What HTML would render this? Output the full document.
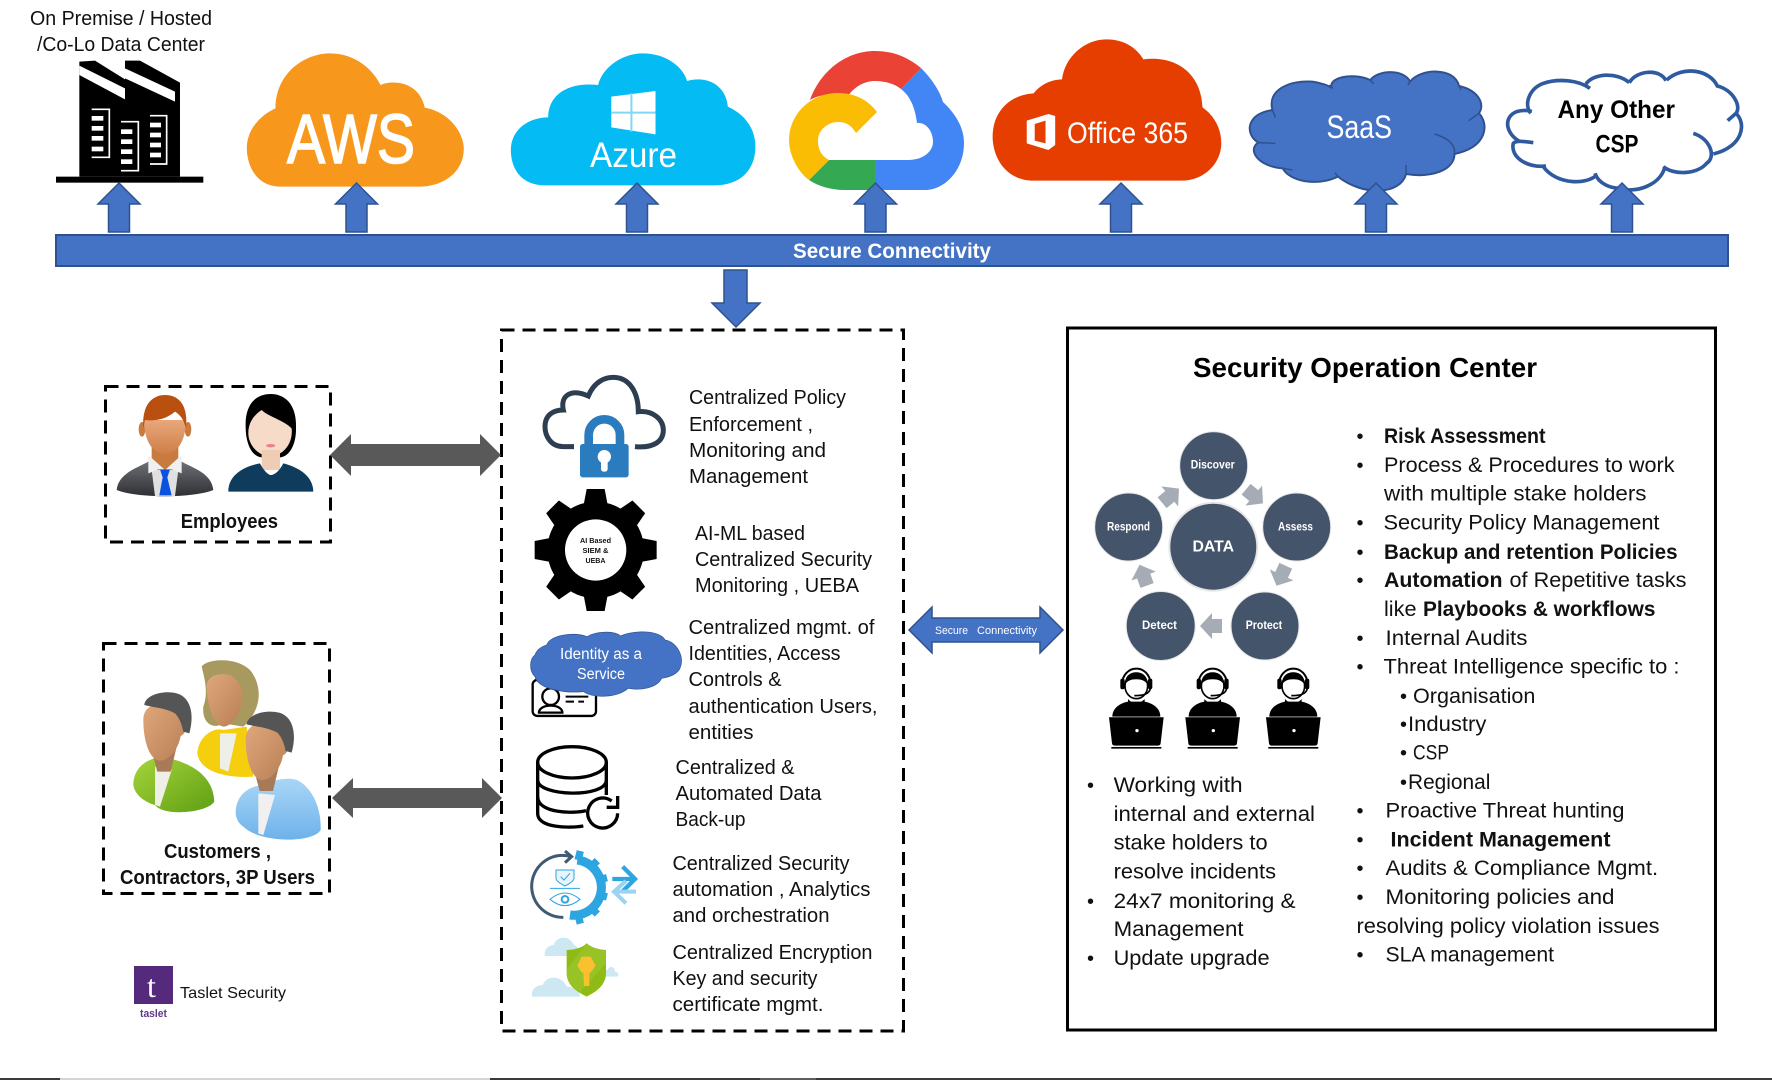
<!DOCTYPE html>
<html><head><meta charset="utf-8"><title>Secure Connectivity Diagram</title>
<style>
html,body{margin:0;padding:0;background:#fff}
svg{display:block}
text{font-family:"Liberation Sans",sans-serif;fill:#111}
.t{font-size:20px}
.s{font-size:21.5px}
.b{font-weight:bold}
.w{fill:#fff}
.ln{fill:none;stroke:#000}
</style></head><body>
<svg xmlns="http://www.w3.org/2000/svg" width="1772" height="1080" viewBox="0 0 1772 1080">
<defs>
<linearGradient id="suit" x1="0" y1="0" x2="0" y2="1"><stop offset="0" stop-color="#6d6f75"/><stop offset="1" stop-color="#2f3034"/></linearGradient>
<linearGradient id="skin" x1="0" y1="0" x2="1" y2="1"><stop offset="0" stop-color="#e0a77c"/><stop offset="1" stop-color="#b87f55"/></linearGradient>
<linearGradient id="face" x1="0" y1="0" x2="0" y2="1"><stop offset="0" stop-color="#e8a77c"/><stop offset="1" stop-color="#cf7f47"/></linearGradient>
<linearGradient id="grn" x1="0" y1="0" x2="1" y2="1"><stop offset="0" stop-color="#a6d63a"/><stop offset="1" stop-color="#5f9e14"/></linearGradient>
<linearGradient id="blu" x1="0" y1="0" x2="0" y2="1"><stop offset="0" stop-color="#aad6f7"/><stop offset="1" stop-color="#6db2ea"/></linearGradient>
<polygon id="up" points="0,183 21,204 10.5,204 10.5,232 -10.5,232 -10.5,204 -21,204" fill="#4472c4" stroke="#2f528f" stroke-width="1.5"/>
<polygon id="tooth" points="-27,-183 27,-183 38,-125 -38,-125"/>
<polygon id="ga" points="-7,9 7,9 7,-1 13,-1 0,-13 -13,-1 -7,-1" fill="#a5acb5"/>
<g id="agent">
<path d="M-72,950 C-72,925 -50,910 -25,905 L25,905 C50,910 72,925 72,950 Z" fill="#000"/>
<path d="M-42,850 A42,44 0 0 1 42,850" fill="none" stroke="#000" stroke-width="6"/>
<ellipse cx="0" cy="858" rx="34" ry="38" fill="#fff" stroke="#000" stroke-width="5"/>
<path d="M-34,855 C-35,825 -15,817 0,817 C15,817 35,825 34,855 C28,842 15,838 0,838 C-15,838 -28,842 -34,855Z" fill="#000"/>
<rect x="-48" y="836" width="13" height="32" rx="6" fill="#000"/>
<rect x="35" y="836" width="13" height="32" rx="6" fill="#000"/>
<path d="M42,866 C38,883 20,887 -6,887" fill="none" stroke="#000" stroke-width="5"/>
<path d="M-25,897 C-10,914 10,914 25,897 L25,910 L-25,910Z" fill="#000"/>
<path d="M-82,952 L82,952 L73,1030 Q72,1037 65,1037 L-65,1037 Q-72,1037 -73,1030 Z" fill="#000"/>
<rect x="-75" y="1041" width="150" height="5" fill="#000"/>
<circle cx="2" cy="992" r="5" fill="#fff"/>
</g>
<g id="mhead">
<path d="M212,350 L290,350 L272,425 L232,425 Z" fill="#a87a58"/>
<path d="M190,270 C190,235 215,222 245,222 C280,222 305,240 305,275 C322,275 322,310 302,318 C295,360 265,392 240,392 C212,392 190,340 190,270Z" fill="url(#skin)"/>
<path d="M193,225 C195,195 250,180 290,190 C330,200 345,250 328,310 L310,305 C305,280 297,262 285,250 C260,235 220,232 193,225Z" fill="#555"/>
</g>
</defs>

<!-- Top labels -->
<text class="t" x="30" y="25" textLength="182" lengthAdjust="spacingAndGlyphs">On Premise / Hosted</text>
<text class="t" x="37" y="51" textLength="168" lengthAdjust="spacingAndGlyphs">/Co-Lo Data Center</text>

<!-- Building -->
<g transform="translate(50,50) scale(.3333)">
<rect x="18" y="380" width="442" height="18" fill="#000"/>
<path d="M88,35 L135,32 L225,88 L225,32 L270,32 L390,98 L390,380 L88,380 Z" fill="#000"/>
<polygon points="88,47 225,115 225,148 88,75" fill="#fff"/>
<polygon points="225,55 375,125 375,155 225,85" fill="#fff"/>
<g fill="#fff">
<rect x="125" y="198" width="35" height="14"/><rect x="125" y="228" width="35" height="14"/><rect x="125" y="258" width="35" height="14"/><rect x="125" y="290" width="35" height="14"/>
<rect x="213" y="238" width="34" height="14"/><rect x="213" y="268" width="34" height="14"/><rect x="213" y="298" width="34" height="14"/><rect x="213" y="328" width="34" height="14"/>
<rect x="300" y="218" width="33" height="14"/><rect x="300" y="248" width="33" height="14"/><rect x="300" y="278" width="33" height="14"/><rect x="300" y="308" width="33" height="14"/>
</g>
<g fill="none" stroke="#fff" stroke-width="5">
<path d="M125,178 H178 V322 H125"/><path d="M213,215 H265 V362 H213"/><path d="M300,197 H350 V342 H300"/>
</g>
</g>

<!-- AWS -->
<path transform="scale(.574,.3333)" d="M490,560 C440,560 430,480 430,445 C430,380 460,340 480,325 C480,220 530,160 575,160 C620,160 650,210 663,255 C680,240 730,240 740,323 C790,340 808,410 808,445 C808,520 770,560 730,560 Z" fill="#f7981d"/>
<text class="w" x="287" y="163" font-size="70" textLength="128" lengthAdjust="spacingAndGlyphs" style="stroke:#fff;stroke-width:1.6">AWS</text>

<!-- Azure -->
<g transform="scale(.574,.3333)">
<path d="M950,556 C905,556 890,500 890,450 C890,390 920,352 955,352 C955,290 985,245 1042,255 C1050,200 1085,160 1120,160 C1160,160 1190,200 1197,243 C1235,225 1265,260 1268,320 C1300,345 1316,390 1316,440 C1316,510 1290,556 1245,556 Z" fill="#05bbf3"/>
<polygon points="1065,290 1142,273 1142,403 1065,382" fill="#fff"/>
<path d="M1100,280 V395 M1065,338 H1142" stroke="#7fd8f7" stroke-width="2" vector-effect="non-scaling-stroke"/>
</g>
<text class="w" x="590" y="167" font-size="35" textLength="87" lengthAdjust="spacingAndGlyphs">Azure</text>

<!-- Google -->
<path d="M901,89 L921,68 C933,80 940,92 943,102 C958,116 964,130 964,143 C964,170 945,190 925,190 L875,190 L875,160 L908,160 C925,160 933,150 933,142 C933,130 925,122 917,123 C915,107 910,96 901,89Z" fill="#4285f4"/>
<path d="M921,68 C905,55 890,51 875,51 C845,51 820,72 810,100 C820,94 835,93 848,96 C855,86 865,81 875,81 C885,81 895,84 901,89 Z" fill="#ea4335"/>
<path d="M829,160 L875,160 L875,190 L845,190 C830,190 818,186 809,180 Z" fill="#34a853"/>
<path d="M877,112 C868,100 855,93 838,93 C810,93 789,115 789,140 C789,155 798,172 809,180 L829,160 C820,155 818,148 818,140 C818,130 828,122 838,122 C846,122 851,125 856,133 Z" fill="#fbbc04"/>

<!-- Office 365 -->
<g transform="translate(880,0) scale(.5688,.3333)">
<path d="M270,542 C220,542 198,470 198,410 C198,340 225,285 270,280 C285,250 300,240 320,238 C325,170 360,118 398,118 C430,118 452,145 463,178 C520,165 565,220 567,322 C590,350 600,390 600,430 C600,490 570,542 530,542 Z" fill="#e63e00"/>
<path d="M258,362 L296,342 L308,348 L308,435 L296,450 L258,430 Z" fill="#fff"/>
<path d="M272,372 L291,362 L291,430 L272,422 Z" fill="#e63e00"/>
</g>
<text class="w" x="1067" y="143" font-size="30" textLength="121" lengthAdjust="spacingAndGlyphs">Office 365</text>

<!-- SaaS -->
<g transform="translate(880,0) scale(.5688,.3333)">
<path vector-effect="non-scaling-stroke" d="M690,330 C680,270 720,240 760,245 C775,248 790,258 795,265 C785,235 830,215 862,240 C875,210 920,205 932,245 C950,205 1010,200 1018,258 C1050,270 1065,310 1053,340 C1070,370 1070,440 1010,462 C1010,510 970,535 925,522 C915,585 850,590 805,530 C770,560 720,545 708,505 C665,500 645,450 665,428 C640,400 645,340 690,330 Z" fill="#4472c4" stroke="#2f528f" stroke-width="2"/>
<path vector-effect="non-scaling-stroke" d="M690,330 L695,352 M795,265 L790,255 M862,240 L868,252 M932,245 L928,255 M1018,258 L1022,270 M1053,340 L1035,362 M1010,462 C1012,435 1000,415 975,402 M925,522 L925,495 M805,530 L800,518 M708,505 L725,510 M665,428 L695,430" fill="none" stroke="#2f528f" stroke-width="1.5"/>
</g>
<text class="w" x="1326.5" y="138" font-size="32" textLength="65.5" lengthAdjust="spacingAndGlyphs">SaaS</text>

<!-- Any other -->
<g transform="translate(1500,60) scale(.3333,.3333)" fill="none" stroke="#2f5a9f" stroke-width="11">
<path d="M92,160 C70,130 90,85 130,70 C175,55 235,60 270,85"/>
<path d="M258,72 C280,40 350,35 388,68"/>
<path d="M388,68 C410,30 480,25 498,62"/>
<path d="M500,60 C550,15 630,30 652,78 C700,90 725,140 708,160 L683,182"/>
<path d="M708,160 C740,190 730,260 640,282"/>
<path d="M580,220 C630,235 650,290 620,310 C590,345 520,345 490,320"/>
<path d="M495,320 C480,380 400,400 360,385 C330,385 295,370 285,340"/>
<path d="M290,345 C260,375 170,375 130,320"/>
<path d="M138,318 C80,325 30,290 40,250 C50,240 75,245 100,248"/>
<path d="M60,245 C15,220 10,170 50,155 C65,150 85,150 95,155"/>
</g>
<text class="b" x="1557.5" y="118" font-size="25" textLength="117.5" lengthAdjust="spacingAndGlyphs" style="fill:#000">Any Other</text>
<text class="b" x="1595.5" y="152.5" font-size="25" textLength="43" lengthAdjust="spacingAndGlyphs" style="fill:#000">CSP</text>

<!-- Up arrows -->
<use href="#up" x="119"/><use href="#up" x="356.5"/><use href="#up" x="637"/><use href="#up" x="875.5"/><use href="#up" x="1121"/><use href="#up" x="1376"/><use href="#up" x="1622"/>

<!-- Connectivity bar -->
<rect x="56" y="235" width="1672" height="31" fill="#4472c4" stroke="#2f528f" stroke-width="2"/>
<text class="w b" x="793" y="258" font-size="21" textLength="198" lengthAdjust="spacingAndGlyphs">Secure Connectivity</text>
<polygon points="724,270 747,270 747,303 760,303 736,327 712,303 724,303" fill="#4472c4" stroke="#2f528f" stroke-width="1.5"/>

<!-- Dashed boxes -->
<g fill="none" stroke="#000" stroke-width="3" stroke-dasharray="13 8">
<rect x="501.5" y="330" width="402" height="701"/>
<rect x="105.5" y="386.5" width="225" height="155.5"/>
<rect x="103.5" y="643.5" width="226" height="250"/>
</g>
<rect x="1067.5" y="328" width="648" height="702" fill="none" stroke="#000" stroke-width="3"/>

<!-- Double arrows -->
<polygon points="330,455 351,434 351,444 480,444 480,434 501,455 480,476 480,466 351,466 351,476" fill="#595959"/>
<polygon points="332,798 353,778 353,788 482,788 482,778 502,798 482,818 482,808 353,808 353,818" fill="#595959"/>
<polygon points="909,630 932,607 932,618 1040,618 1040,607 1063,630 1040,653 1040,642 932,642 932,653" fill="#4472c4" stroke="#2f528f" stroke-width="1.5"/>
<text class="w" x="935" y="634" font-size="11" textLength="33" lengthAdjust="spacingAndGlyphs">Secure</text>
<text class="w" x="977" y="634" font-size="11" textLength="60" lengthAdjust="spacingAndGlyphs">Connectivity</text>

<!-- Employees -->
<g transform="translate(80,370) scale(.3333)">
<path d="M110,360 C115,310 170,295 205,275 L305,275 C340,295 395,310 400,360 C340,385 170,385 110,360Z" fill="url(#suit)"/>
<path d="M215,300 L295,300 L285,378 L225,378Z" fill="#e0e0e0"/>
<path d="M215,215 L295,215 L295,285 L255,305 L215,285Z" fill="#c87a3f"/>
<path d="M205,255 L255,300 L305,255 L305,310 L275,298 L255,300 L235,298 L205,310Z" fill="#f0f0f0"/>
<polygon points="240,298 270,298 262,322 275,376 238,376 248,322" fill="#0b52e0"/>
<ellipse cx="186" cy="178" rx="10" ry="22" fill="#c87a3f"/><ellipse cx="324" cy="178" rx="10" ry="22" fill="#c87a3f"/>
<path d="M192,150 L318,150 C318,200 300,250 255,252 C210,250 192,200 192,150Z" fill="url(#face)"/>
<path d="M190,175 C185,100 220,75 255,75 C300,75 325,110 318,175 C310,145 300,135 285,125 C250,155 210,152 195,150 Z" fill="#b9500f"/>
<path d="M497,170 C495,100 530,72 572,72 C620,72 650,110 648,170 C650,220 630,260 600,262 L545,262 C515,260 497,220 497,170Z" fill="#000"/>
<path d="M505,190 C505,150 530,130 545,120 C565,140 610,150 635,175 C640,220 610,258 570,258 C530,258 505,220 505,190Z" fill="#f6dcc8"/>
<rect x="545" y="240" width="55" height="60" fill="#efcdb5"/>
<path d="M445,365 C445,315 490,290 540,280 C550,300 565,315 572,315 C585,315 600,300 610,280 C650,290 700,315 700,365 Z" fill="#0f3b5c"/>
<ellipse cx="572" cy="227" rx="14" ry="5" fill="#ee7f90"/>
</g>
<text class="b" x="180.7" y="528" font-size="20" textLength="97.3" lengthAdjust="spacingAndGlyphs">Employees</text>

<!-- Customers -->
<g transform="translate(80,630) scale(.3333)">
<path d="M365,110 C380,85 470,80 510,120 C550,170 545,240 490,290 L430,280 C400,300 365,280 370,230 C385,190 375,150 365,110Z" fill="#a89a5e"/>
<path d="M352,370 C355,320 400,290 430,300 L500,290 L520,440 C450,445 360,430 352,370Z" fill="#f5cf0d"/>
<path d="M420,310 L470,310 L445,425 L420,415Z" fill="#eef0e8"/>
<path d="M380,165 C385,135 420,128 450,135 C475,150 490,175 488,205 C485,250 455,290 430,290 C400,285 380,225 380,165Z" fill="url(#skin)"/>
<path d="M160,460 C165,400 215,385 245,380 C300,390 400,420 403,515 C380,550 250,560 225,525 C190,515 160,490 160,460Z" fill="url(#grn)"/>
<path d="M225,410 L275,420 L240,530 L225,525Z" fill="#eef0e8"/>
<use href="#mhead"/>
<path d="M467,545 C470,490 510,470 545,465 C590,445 640,440 660,455 C700,480 725,540 722,600 C700,640 540,640 490,590 C475,580 467,565 467,545Z" fill="url(#blu)"/>
<path d="M535,490 L585,495 L550,615 L535,610Z" fill="#f0f0f0"/>
<use href="#mhead" x="307" y="58"/>
</g>
<text class="b" x="164" y="858" font-size="20" textLength="107" lengthAdjust="spacingAndGlyphs">Customers ,</text>
<text class="b" x="120" y="884" font-size="20" textLength="195" lengthAdjust="spacingAndGlyphs">Contractors, 3P Users</text>

<!-- Taslet -->
<rect x="134" y="966" width="39" height="38" fill="#552a7d"/>
<text x="147" y="997" font-size="32" style="font-family:'Liberation Serif',serif;fill:#fff">t</text>
<text x="140" y="1017" font-size="11" textLength="27" lengthAdjust="spacingAndGlyphs" style="fill:#5f3a88;font-weight:bold">taslet</text>
<text x="180" y="998" font-size="16" textLength="106" lengthAdjust="spacingAndGlyphs">Taslet Security</text>

<!-- Center icons -->
<g transform="translate(500,320) scale(.3333)">
<path d="M222,380 L190,380 C150,380 135,345 135,320 C135,285 160,270 190,270 C180,225 215,205 265,228 C285,180 320,172 340,172 C390,172 415,220 415,275 C460,270 490,300 490,330 C490,365 460,385 405,380" fill="none" stroke="#2c3e50" stroke-width="15"/>
<path d="M266,375 V345 A47,47 0 0 1 360,345 V375" fill="none" stroke="#2b7bbf" stroke-width="26"/>
<rect x="240" y="372" width="146" height="100" rx="8" fill="#2b7bbf"/>
<circle cx="313" cy="410" r="20" fill="#fff"/><rect x="303" y="410" width="20" height="45" rx="8" fill="#fff"/>

<g transform="translate(287,690)" fill="#000">
<circle r="145"/>
<use href="#tooth"/><use href="#tooth" transform="rotate(45)"/><use href="#tooth" transform="rotate(90)"/><use href="#tooth" transform="rotate(135)"/><use href="#tooth" transform="rotate(180)"/><use href="#tooth" transform="rotate(225)"/><use href="#tooth" transform="rotate(270)"/><use href="#tooth" transform="rotate(315)"/>
<circle r="92" fill="#fff"/>
</g>

<rect x="98" y="1080" width="190" height="108" rx="14" fill="#fff" stroke="#000" stroke-width="7"/>
<circle cx="152" cy="1130" r="25" fill="#fff" stroke="#000" stroke-width="7"/>
<path d="M117,1178 C117,1150 187,1150 187,1178 Z" fill="#fff" stroke="#000" stroke-width="7"/>
<path d="M197,1130 H265 M197,1145 H222 M235,1145 H252" stroke="#000" stroke-width="6"/>
<path d="M140,975 C150,945 220,935 262,950 C285,935 340,930 362,948 C400,930 480,930 495,960 C530,965 555,1010 540,1045 C530,1065 505,1072 485,1075 C470,1105 420,1112 385,1105 C350,1135 280,1135 250,1115 C200,1120 115,1110 105,1070 C85,1050 90,1015 105,1005 C110,990 125,980 140,975 Z" fill="#4472c4" stroke="#2f528f" stroke-width="2"/>
</g>
<text class="b" x="580" y="543" font-size="7.5" textLength="31" lengthAdjust="spacingAndGlyphs">AI Based</text>
<text class="b" x="582.5" y="553" font-size="7.5" textLength="26" lengthAdjust="spacingAndGlyphs">SIEM &amp;</text>
<text class="b" x="585.5" y="563" font-size="7.5" textLength="20" lengthAdjust="spacingAndGlyphs">UEBA</text>
<text class="w" x="560" y="659" font-size="15.5" textLength="82" lengthAdjust="spacingAndGlyphs">Identity as a</text>
<text class="w" x="577" y="679" font-size="15.5" textLength="48" lengthAdjust="spacingAndGlyphs">Service</text>

<g transform="translate(500,700) scale(.3333)">
<g fill="none" stroke="#000" stroke-width="10">
<ellipse cx="216" cy="187" rx="103" ry="47"/>
<path d="M113,187 V340 C113,385 210,385 250,378"/>
<path d="M319,187 V285"/>
<path d="M113,240 C113,290 319,295 319,240"/>
<path d="M113,290 C113,340 220,342 258,332"/>
<path d="M353,340 A45,45 0 1 1 335,303"/>
<path d="M353,288 V322 H320"/>
</g>
<path d="M215,470 A93,93 0 1 0 190,652" fill="none" stroke="#3f5a72" stroke-width="9"/>
<path d="M195,453 L215,470 L195,488" fill="none" stroke="#3f5a72" stroke-width="9"/>
<g fill="none" stroke="#2ca5e0">
<path d="M232,480 A83,83 0 0 1 210,645" stroke-width="27"/>
<path d="M234,480 L241,453 M272,502 L292,482 M294,540 L321,533 M294,584 L321,591 M272,622 L292,642 M234,644 L241,671" stroke-width="22"/>
<path d="M168,510 H222 V535 C222,545 200,555 195,558 C190,555 168,545 168,535Z" stroke-width="3" fill="#e8f4fb"/>
<path d="M182,530 L192,540 L210,520" stroke-width="3"/>
<path d="M150,565 H240" stroke-width="3"/>
<path d="M150,598 Q195,560 240,598 Q195,636 150,598Z" stroke-width="3"/>
<circle cx="195" cy="598" r="10" stroke-width="6"/>
<path d="M337,537 H400 M368,500 L405,537 L368,574" stroke-width="13"/>
</g>
<path d="M408,575 H345 M378,543 L342,575 L378,610" fill="none" stroke="#9bd4f0" stroke-width="12"/>
<g fill="#cde8f2">
<path d="M135,768 C130,745 150,735 162,735 C165,712 205,700 222,735 C240,740 240,768 222,768Z"/>
<path d="M97,890 C90,865 115,855 128,855 C140,825 185,825 200,860 C225,860 240,875 240,890Z"/>
<path d="M305,830 C300,815 318,810 322,810 C330,795 345,800 345,815 C355,815 360,830 350,830Z"/>
</g>
<path d="M200,750 C230,750 250,740 260,730 C270,740 295,750 318,750 L318,820 C318,860 280,880 260,890 C240,880 200,860 200,820 Z" fill="#8fbc14"/>
<path d="M260,730 C270,740 295,750 318,750 L318,790 L240,875 C215,860 200,840 200,820 L200,810Z" fill="#a0c935" opacity=".55"/>
<path d="M232,797 L245,770 L272,770 L287,797 L272,818 L268,818 L268,858 L252,858 L250,818 L245,818Z" fill="#fbc02d"/>
</g>

<!-- Center text -->
<text class="t" x="689" y="404" textLength="157" lengthAdjust="spacingAndGlyphs">Centralized Policy</text>
<text class="t" x="689" y="431" textLength="124" lengthAdjust="spacingAndGlyphs">Enforcement ,</text>
<text class="t" x="689" y="457" textLength="137" lengthAdjust="spacingAndGlyphs">Monitoring and</text>
<text class="t" x="689" y="483" textLength="119" lengthAdjust="spacingAndGlyphs">Management</text>
<text class="t" x="695" y="540" textLength="110" lengthAdjust="spacingAndGlyphs">AI-ML based</text>
<text class="t" x="695" y="566" textLength="177" lengthAdjust="spacingAndGlyphs">Centralized Security</text>
<text class="t" x="695" y="592" textLength="164" lengthAdjust="spacingAndGlyphs">Monitoring , UEBA</text>
<text class="t" x="688.5" y="634" textLength="186" lengthAdjust="spacingAndGlyphs">Centralized mgmt. of</text>
<text class="t" x="688.5" y="660" textLength="152" lengthAdjust="spacingAndGlyphs">Identities, Access</text>
<text class="t" x="688.5" y="686" textLength="93" lengthAdjust="spacingAndGlyphs">Controls &amp;</text>
<text class="t" x="688.5" y="713" textLength="189" lengthAdjust="spacingAndGlyphs">authentication Users,</text>
<text class="t" x="688.5" y="739" textLength="65" lengthAdjust="spacingAndGlyphs">entities</text>
<text class="t" x="675.5" y="774" textLength="119" lengthAdjust="spacingAndGlyphs">Centralized &amp;</text>
<text class="t" x="675.5" y="800" textLength="146" lengthAdjust="spacingAndGlyphs">Automated Data</text>
<text class="t" x="675.5" y="826" textLength="70" lengthAdjust="spacingAndGlyphs">Back-up</text>
<text class="t" x="672.5" y="870" textLength="177" lengthAdjust="spacingAndGlyphs">Centralized Security</text>
<text class="t" x="672.5" y="896" textLength="198" lengthAdjust="spacingAndGlyphs">automation , Analytics</text>
<text class="t" x="672.5" y="922" textLength="157" lengthAdjust="spacingAndGlyphs">and orchestration</text>
<text class="t" x="672.5" y="959" textLength="200" lengthAdjust="spacingAndGlyphs">Centralized Encryption</text>
<text class="t" x="672.5" y="985" textLength="145" lengthAdjust="spacingAndGlyphs">Key and security</text>
<text class="t" x="672.5" y="1011" textLength="151" lengthAdjust="spacingAndGlyphs">certificate mgmt.</text>

<!-- SOC -->
<text class="b" x="1193" y="377" font-size="28" textLength="344" lengthAdjust="spacingAndGlyphs" style="fill:#000">Security Operation Center</text>
<g fill="#44546a" stroke="#e6e6e6" stroke-width="1">
<circle cx="1213.7" cy="465.7" r="34"/><circle cx="1296.7" cy="527" r="34"/><circle cx="1265" cy="626" r="34"/><circle cx="1160.7" cy="626" r="34.5"/><circle cx="1128.7" cy="527" r="34"/>
<circle cx="1213.3" cy="546.7" r="44" stroke-width="2"/>
</g>
<text class="w b" x="1190.7" y="468.5" font-size="11.5" textLength="44" lengthAdjust="spacingAndGlyphs">Discover</text>
<text class="w b" x="1107" y="530.7" font-size="11.5" textLength="43" lengthAdjust="spacingAndGlyphs">Respond</text>
<text class="w b" x="1278" y="530.7" font-size="11.5" textLength="35" lengthAdjust="spacingAndGlyphs">Assess</text>
<text class="w b" x="1245.7" y="629" font-size="11.5" textLength="36.5" lengthAdjust="spacingAndGlyphs">Protect</text>
<text class="w b" x="1142" y="629" font-size="11.5" textLength="35" lengthAdjust="spacingAndGlyphs">Detect</text>
<text class="w b" x="1192.5" y="551.7" font-size="16" textLength="41.5" lengthAdjust="spacingAndGlyphs">DATA</text>
<use href="#ga" transform="translate(1169,497) rotate(50)"/>
<use href="#ga" transform="translate(1253,495) rotate(130)"/>
<use href="#ga" transform="translate(1282,574) rotate(205)"/>
<use href="#ga" transform="translate(1213,626) rotate(270)"/>
<use href="#ga" transform="translate(1144,577) rotate(-20)"/>
<g transform="translate(1060,400) scale(.3333)">
<use href="#agent" x="229"/><use href="#agent" x="458"/><use href="#agent" x="700"/>
</g>

<!-- SOC right text -->
<g font-size="20">
<text x="1356.5" y="443">•</text><text x="1356.5" y="472">•</text><text x="1356.5" y="529.5">•</text><text x="1356.5" y="559">•</text><text x="1356.5" y="587">•</text><text x="1356.5" y="645">•</text><text x="1356.5" y="673.5">•</text><text x="1356.5" y="817.5">•</text><text x="1356.5" y="846.5">•</text><text x="1356.5" y="875">•</text><text x="1356.5" y="904">•</text><text x="1356.5" y="961.5">•</text>
<text x="1400" y="703">•</text><text x="1400" y="731">•</text><text x="1400" y="759.5">•</text><text x="1400" y="789">•</text>
<text x="1087" y="792">•</text><text x="1087" y="908">•</text><text x="1087" y="965">•</text>
</g>
<text class="s b" x="1384" y="443" textLength="161.5" lengthAdjust="spacingAndGlyphs">Risk Assessment</text>
<text class="s" x="1384" y="472" textLength="290.5" lengthAdjust="spacingAndGlyphs">Process &amp; Procedures to work</text>
<text class="s" x="1384" y="500.5" textLength="262.5" lengthAdjust="spacingAndGlyphs">with multiple stake holders</text>
<text class="s" x="1383.5" y="529.5" textLength="276" lengthAdjust="spacingAndGlyphs">Security Policy Management</text>
<text class="s b" x="1384" y="559" textLength="293.5" lengthAdjust="spacingAndGlyphs">Backup and retention Policies</text>
<text class="s b" x="1384" y="587" textLength="118.5" lengthAdjust="spacingAndGlyphs">Automation</text>
<text class="s" x="1509.5" y="587" textLength="177" lengthAdjust="spacingAndGlyphs">of Repetitive tasks</text>
<text class="s" x="1384" y="616" textLength="32.5" lengthAdjust="spacingAndGlyphs">like</text>
<text class="s b" x="1423" y="616" textLength="232.4" lengthAdjust="spacingAndGlyphs">Playbooks &amp; workflows</text>
<text class="s" x="1385.5" y="645" textLength="142" lengthAdjust="spacingAndGlyphs">Internal Audits</text>
<text class="s" x="1383.5" y="673.5" textLength="296" lengthAdjust="spacingAndGlyphs">Threat Intelligence specific to :</text>
<text class="s" x="1413" y="703" textLength="122.4" lengthAdjust="spacingAndGlyphs">Organisation</text>
<text class="s" x="1408" y="731" textLength="78.4" lengthAdjust="spacingAndGlyphs">Industry</text>
<text class="s" x="1413" y="759.5" textLength="36" lengthAdjust="spacingAndGlyphs">CSP</text>
<text class="s" x="1408" y="789" textLength="82.4" lengthAdjust="spacingAndGlyphs">Regional</text>
<text class="s" x="1385.5" y="817.5" textLength="239" lengthAdjust="spacingAndGlyphs">Proactive Threat hunting</text>
<text class="s b" x="1390.5" y="846.5" textLength="220" lengthAdjust="spacingAndGlyphs">Incident Management</text>
<text class="s" x="1385.5" y="875" textLength="272.6" lengthAdjust="spacingAndGlyphs">Audits &amp; Compliance Mgmt.</text>
<text class="s" x="1385.5" y="904" textLength="229" lengthAdjust="spacingAndGlyphs">Monitoring policies and</text>
<text class="s" x="1356.5" y="933" textLength="303" lengthAdjust="spacingAndGlyphs">resolving policy violation issues</text>
<text class="s" x="1385.5" y="961.5" textLength="168.5" lengthAdjust="spacingAndGlyphs">SLA management</text>

<!-- SOC left text -->
<text class="s" x="1113.6" y="792" textLength="129" lengthAdjust="spacingAndGlyphs">Working with</text>
<text class="s" x="1113.6" y="821" textLength="201.4" lengthAdjust="spacingAndGlyphs">internal and external</text>
<text class="s" x="1113.6" y="849.5" textLength="154" lengthAdjust="spacingAndGlyphs">stake holders to</text>
<text class="s" x="1113.6" y="878.5" textLength="162.4" lengthAdjust="spacingAndGlyphs">resolve incidents</text>
<text class="s" x="1113.6" y="908" textLength="182" lengthAdjust="spacingAndGlyphs">24x7 monitoring &amp;</text>
<text class="s" x="1113.6" y="936" textLength="130" lengthAdjust="spacingAndGlyphs">Management</text>
<text class="s" x="1113.6" y="965" textLength="156" lengthAdjust="spacingAndGlyphs">Update upgrade</text>

<!-- Bottom strip -->
<rect x="0" y="1078" width="1772" height="2" fill="#3a3a3a"/>
<rect x="60" y="1078" width="430" height="2" fill="#d4d4d4"/>
<rect x="760" y="1078" width="56" height="2" fill="#5e5e5e"/>
</svg>
</body></html>
